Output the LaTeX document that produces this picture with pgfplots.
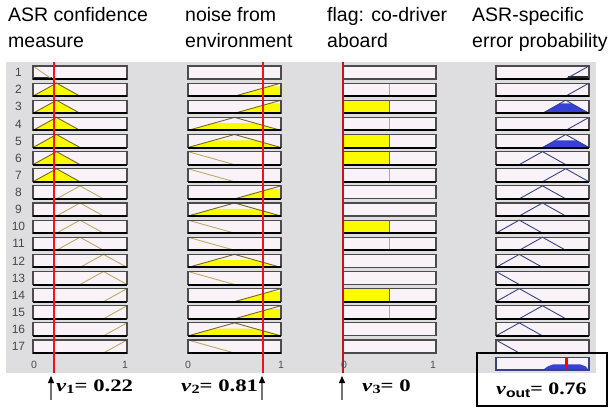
\documentclass[border=0pt]{standalone}
\usepackage{pgfplots}
\pgfplotsset{compat=1.18}
\usepackage{fontspec}
\usepackage{graphicx}
\setmainfont{Liberation Serif}
\newfontfamily\arial{Liberation Sans}
\usetikzlibrary{arrows.meta}

\definecolor{panel}{RGB}{222,222,224}
\definecolor{boxfill}{RGB}{249,243,249}
\definecolor{boxedge}{RGB}{75,75,75}
\definecolor{mfyel}{RGB}{250,250,0}
\definecolor{mfline}{RGB}{185,172,100}
\definecolor{mfdark}{RGB}{115,105,40}
\definecolor{outl}{RGB}{55,65,135}
\definecolor{outfill}{RGB}{55,65,215}
\definecolor{vline}{RGB}{240,20,20}
\definecolor{redd}{RGB}{200,20,20}

\pgfplotsset{
  mfbox/.style={scale only axis, width=93pt, height=13pt, anchor=north west,
    xmin=0, xmax=1, ymin=0, ymax=1, ticks=none, clip=false,
    axis line style={draw=none},
    axis background/.style={fill=boxfill}},
  vover/.style={scale only axis, anchor=south west, height=311pt,
    xmin=0, xmax=1, ymin=0, ymax=1, hide axis, clip=false},
}

\newcommand\frameit{\draw[boxedge, line width=1.1pt] (rel axis cs:0,0) rectangle (rel axis cs:1,1);
  \draw[black, line width=2pt] (rel axis cs:0,0) -- (rel axis cs:1,0);}
\newcommand\frameblank{\draw[boxedge, line width=1.1pt] (rel axis cs:0,0) rectangle (rel axis cs:1,1);}

% ---- column 1: ASR confidence measure (v1 = 0.22)
\expandafter\def\csname shpIA\endcsname{\addplot[fill=black!80, draw=none] coordinates {(0,0) (0,0.12) (0.2,0.12) (0.2,0)};
  \addplot[mfline, line width=0.9pt] coordinates {(0,1) (0.2,0)}; \frameit}
\expandafter\def\csname shpIB\endcsname{\addplot[fill=mfyel, draw=none] coordinates {(0,0) (0.22,0.88) (0.28,0.88) (0.5,0)};
  \addplot[mfdark, line width=0.9pt] coordinates {(0,0) (0.25,1) (0.5,0)}; \frameit}
\expandafter\def\csname shpIC\endcsname{\addplot[mfline, line width=0.9pt] coordinates {(0.25,0) (0.5,1) (0.75,0)}; \frameit}
\expandafter\def\csname shpID\endcsname{\addplot[mfline, line width=0.9pt] coordinates {(0.5,0) (0.75,1) (1,0)}; \frameit}
\expandafter\def\csname shpIE\endcsname{\addplot[mfline, line width=0.9pt] coordinates {(0.75,0) (1,1)}; \frameit}

% ---- column 2: noise from environment (v2 = 0.81)
\expandafter\def\csname shpIIN\endcsname{\frameblank}
\expandafter\def\csname shpIIR\endcsname{\addplot[fill=mfyel, draw=none] coordinates {(0.5,0) (0.875,0.75) (1,0.75) (1,0)};
  \addplot[mfdark, line width=0.9pt] coordinates {(0.5,0) (1,1)}; \frameit}
\expandafter\def\csname shpIIT\endcsname{\addplot[fill=mfyel, draw=none] coordinates {(0,0) (0.275,0.55) (0.725,0.55) (1,0)};
  \addplot[mfdark, line width=0.9pt] coordinates {(0,0) (0.5,1) (1,0)}; \frameit}
\expandafter\def\csname shpIID\endcsname{\addplot[mfline, line width=0.9pt] coordinates {(0,1) (0.5,0)}; \frameit}

% ---- column 3: flag co-driver aboard (v3 = 0)
\expandafter\def\csname shpIIIN\endcsname{\frameblank}
\expandafter\def\csname shpIIIH\endcsname{\addplot[mfline, line width=0.9pt] coordinates {(0.5,0) (0.5,1) (1,1)}; \frameit}
\expandafter\def\csname shpIIIL\endcsname{\addplot[fill=mfyel, draw=none] coordinates {(0,0) (0,1) (0.5,1) (0.5,0)};
  \addplot[mfdark, line width=0.9pt] coordinates {(0,1) (0.5,1) (0.5,0)}; \frameit}

% ---- column 4: ASR-specific error probability (output)
\expandafter\def\csname shpIVH\endcsname{\addplot[outl, line width=0.9pt] coordinates {(0.75,0) (1,1)}; \frameit}
\expandafter\def\csname shpIVK\endcsname{\addplot[fill=black!85, draw=none] coordinates {(0.77,0) (0.77,0.2) (1,0.2) (1,0)};
  \addplot[outl, line width=0.9pt] coordinates {(0.75,0) (1,1)}; \frameit}
\expandafter\def\csname shpIVP\endcsname{\addplot[outl, line width=0.9pt] coordinates {(0.5,0) (0.75,1) (1,0)}; \frameit}
\expandafter\def\csname shpIVQ\endcsname{\addplot[outl, line width=0.9pt] coordinates {(0.25,0) (0.5,1) (0.75,0)}; \frameit}
\expandafter\def\csname shpIVS\endcsname{\addplot[outl, line width=0.9pt] coordinates {(0,0) (0.25,1) (0.5,0)}; \frameit}
\expandafter\def\csname shpIVL\endcsname{\addplot[outl, line width=0.9pt] coordinates {(0,1) (0.25,0)}; \frameit}
\expandafter\def\csname shpIVX\endcsname{\addplot[fill=outfill, draw=none] coordinates {(0.5,0) (0.6875,0.75) (0.8125,0.75) (1,0)};
  \addplot[outl, line width=0.9pt] coordinates {(0.5,0) (0.75,1) (1,0)}; \frameit}
\expandafter\def\csname shpIVY\endcsname{\addplot[fill=outfill, draw=none] coordinates {(0.5,0) (0.6375,0.55) (0.8625,0.55) (1,0)};
  \addplot[outl, line width=0.9pt] coordinates {(0.5,0) (0.75,1) (1,0)}; \frameit}

\newcommand\vlab[2]{\scalebox{1.3}[1]{\fontsize{17.5}{17.5}\selectfont\bfseries\textit{v}\raisebox{-0.35ex}{\fontsize{12.5}{12.5}\selectfont #1}= #2}}

\begin{document}
\begin{tikzpicture}
\useasboundingbox (0,0) rectangle (610pt,-409pt);
\fill[panel] (6pt,-62pt) rectangle (596pt,-373pt);

% titles
\begin{scope}[every node/.style={anchor=base west, inner sep=0pt, font=\arial\fontsize{19.5}{19.5}\selectfont}]
\node at (8pt,-22pt) {ASR confidence};
\node at (8pt,-48pt) {measure};
\node at (185pt,-22pt) {noise from};
\node at (185pt,-48pt) {environment};
\node at (327pt,-22pt) {flag: co-driver};
\node at (327pt,-48pt) {aboard};
\node at (472pt,-22pt) {ASR-specific};
\node at (472pt,-48pt) {error probability};
\end{scope}

% row numbers
\foreach \r in {1,...,17}{
  \pgfmathsetmacro\yc{66+(\r-1)*17.125+6.5}
  \node[inner sep=0pt, text=black!72, font=\arial\fontsize{12}{12}\selectfont] at (18.5pt,-\yc pt) {\r};
}

% column 1
\foreach \r/\s in {1/A,2/B,3/B,4/B,5/B,6/B,7/B,8/C,9/C,10/C,11/C,12/D,13/D,14/E,15/E,16/E,17/E}{
  \pgfmathsetmacro\yt{66+(\r-1)*17.125}
  \begin{axis}[mfbox, width=94pt, at={(33pt,-\yt pt)}]
    \csname shpI\s\endcsname
  \end{axis}
}
% column 2
\foreach \r/\s in {1/N,2/R,3/R,4/T,5/T,6/D,7/D,8/R,9/T,10/D,11/D,12/T,13/D,14/R,15/R,16/T,17/D}{
  \pgfmathsetmacro\yt{66+(\r-1)*17.125}
  \begin{axis}[mfbox, at={(188pt,-\yt pt)}]
    \csname shpII\s\endcsname
  \end{axis}
}
% column 3
\foreach \r/\s in {1/N,2/H,3/L,4/H,5/L,6/L,7/H,8/N,9/N,10/L,11/H,12/N,13/N,14/L,15/H,16/N,17/N}{
  \pgfmathsetmacro\yt{66+(\r-1)*17.125}
  \begin{axis}[mfbox, at={(343pt,-\yt pt)}]
    \csname shpIII\s\endcsname
  \end{axis}
}
% column 4
\foreach \r/\s in {1/K,2/H,3/X,4/H,5/Y,6/Q,7/P,8/Q,9/Q,10/S,11/Q,12/S,13/L,14/S,15/Q,16/S,17/L}{
  \pgfmathsetmacro\yt{66+(\r-1)*17.125}
  \begin{axis}[mfbox, at={(496pt,-\yt pt)}]
    \csname shpIV\s\endcsname
  \end{axis}
}
% aggregated output
\begin{axis}[mfbox, at={(496pt,-357.1pt)}]
  \addplot[fill=outfill, draw=none] coordinates {(0.5,0) (0.56,0.3) (0.62,0.45) (0.9,0.45) (0.96,0.3) (1,0)};
  \draw[outl, line width=1.1pt] (rel axis cs:0,0) rectangle (rel axis cs:1,1);
  \draw[outl, line width=1.8pt] (rel axis cs:0,0) -- (rel axis cs:1,0);
  \addplot[red, line width=3pt] coordinates {(0.76,0) (0.76,1)};
\end{axis}

% input value lines
\begin{axis}[vover, width=94pt, at={(33pt,-373pt)}]
  \addplot[color=vline, solid, line width=1.8pt, mark=none] coordinates {(0.22,0) (0.22,1)};
\end{axis}
\begin{axis}[vover, width=93pt, at={(188pt,-373pt)}]
  \addplot[color=vline, solid, line width=1.8pt, mark=none] coordinates {(0.81,0) (0.81,1)};
\end{axis}
\begin{axis}[vover, width=93pt, at={(343pt,-373pt)}]
  \addplot[color=redd, solid, line width=2.4pt, mark=none] coordinates {(0,0) (0,1)};
\end{axis}

% tick labels
\begin{scope}[every node/.style={inner sep=0pt, text=black!70, font=\arial\fontsize{10.5}{10.5}\selectfont}]
\node at (34pt,-365pt) {0};
\node at (125pt,-365pt) {1};
\node at (188pt,-365pt) {0};
\node at (281pt,-365pt) {1};
\node at (344pt,-365pt) {0};
\node at (433pt,-365pt) {1};
\end{scope}

% output frame
\draw[black, line width=1.6pt] (477pt,-353pt) rectangle (607pt,-406pt);

% arrows
\foreach \x in {51,262,342}{
  \draw[black!55, line width=1.3pt, -{Triangle[length=7pt, width=6pt, color=black]}] (\x pt,-400pt) -- (\x pt,-376pt);
}

% value labels
\node[anchor=base west, inner sep=0pt] at (56pt,-391pt) {\vlab{1}{0.22}};
\node[anchor=base west, inner sep=0pt] at (181pt,-391pt) {\vlab{2}{0.81}};
\node[anchor=base west, inner sep=0pt] at (362pt,-391pt) {\vlab{3}{0}};
\node[anchor=base west, inner sep=0pt] at (496pt,-394pt) {\scalebox{1.25}[1]{\fontsize{17.5}{17.5}\selectfont\bfseries\textit{v}\raisebox{-0.4ex}{\arial\bfseries\fontsize{12.5}{12.5}\selectfont out}= 0.76}};
\end{tikzpicture}
\end{document}
